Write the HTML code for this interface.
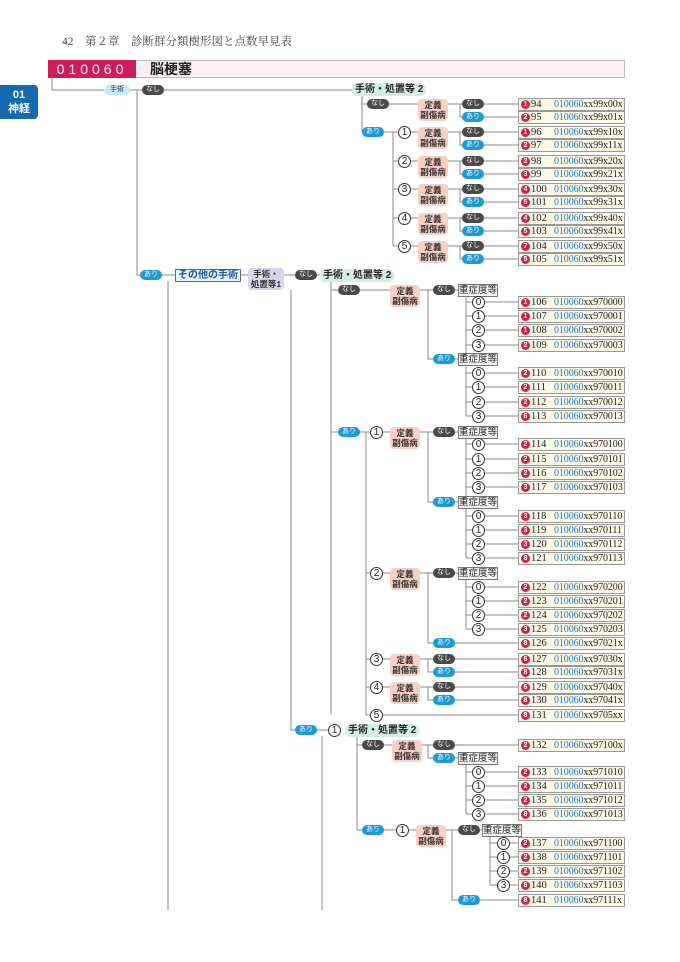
<!DOCTYPE html><html><head><meta charset="utf-8"><style>
body{margin:0;width:680px;height:962px;background:#fff;position:relative;overflow:hidden;font-family:"Liberation Sans","Noto Sans CJK JP",sans-serif}
div{position:absolute;box-sizing:border-box}
.p{height:10px;width:22px;border-radius:5px;color:#fff;font-size:7px;line-height:10px;text-align:center}
.n{background:#4a4a4a}.a{background:#1a9ad6}
.t{width:30px;height:22px;background:#f8cfc2;border-radius:4px;font-size:8.5px;line-height:10px;text-align:center;color:#333;padding-top:1px;font-weight:bold}
.c{width:13px;height:13px;border:1px solid #333;border-radius:50%;background:#fff;font-size:10px;line-height:11px;text-align:center;color:#222}
.s{width:40px;height:13px;border:1px solid #777;background:#f4f4f4;font-size:9.5px;line-height:11px;text-align:center;color:#222}
.h{height:13px;background:#d3ede3;border-radius:6px;font-size:10px;line-height:13px;padding:0 3px;color:#222;font-weight:bold}
.r{left:518px;width:107px;height:13px;border:1px solid #999;background:#fcf9e6;font-family:"Liberation Serif",serif;font-size:10.5px;line-height:11px;color:#222;white-space:nowrap;overflow:hidden}
.r b{display:inline-block;width:9px;height:9px;border-radius:50%;background:#d81c4c;color:#fff;font:bold 7px/9px "Liberation Sans",sans-serif;text-align:center;margin:1px 1px 0 2px;vertical-align:top}
.r i{font-style:normal;position:absolute;left:35px;top:0;font-size:10px;letter-spacing:-0.1px}
.r u{text-decoration:none;color:#1a7cc0}
</style></head><body>
<svg width="680" height="962" style="position:absolute;left:0;top:0" fill="none" stroke="#8a8a8a" stroke-width="1">
<path d="M52 77V90H352M137 90V275H175M240 275H248M284 275H320
M362 95V132H398M362 104H418M393 132V246M393 161H398M393 189H398M393 218H398M393 246H398
M411 132H418M411 161H418M411 189H418M411 218H418M411 246H418
M448 104H518M460 104V117H518M448 132H518M460 132V145H518M448 161H518M460 161V174H518M448 189H518M460 189V202H518M448 218H518M460 218V231H518M448 246H518M460 246V259H518
M168 281V910M291 290V730H328M331 281V715M331 290H390M331 432H370M383 432H390
M420 290H458M428 290V359H458M466 296V416M466 302H518M466 316H518M466 330H518M466 345H518M466 373H518M466 387H518M466 402H518M466 416H518
M420 432H458M428 432V502H458M466 438V558M466 444H518M466 459H518M466 473H518M466 487H518M466 516H518M466 530H518M466 544H518M466 558H518
M366 432V715M366 573H390M366 659H390M366 687H390M366 715H518
M420 573H458M428 573V643H518M466 579V629M466 587H518M466 601H518M466 615H518M466 629H518
M420 659H518M428 659V672H518M420 687H518M428 687V700H518
M322 736V910M357 736V830H396M357 745H392M422 745H518M428 745V758H458M466 764V814M466 772H518M466 786H518M466 800H518M466 814H518
M409 830H416M446 830H482M452 830V900H518M490 836V885M490 843H518M490 857H518M490 871H518M490 885H518"/>
</svg>
<div style="left:62px;top:33px;font-family:'Liberation Serif','Noto Serif CJK SC',serif;font-size:11.5px;color:#444">42　第２章　診断群分類樹形図と点数早見表</div>
<div style="left:48px;top:60px;width:577px;height:18px;background:#fdeef3;border:1px solid #bbb"></div>
<div style="left:48px;top:60px;width:88px;height:18px;background:#d01c5a;color:#fff;font-size:14px;line-height:18px;text-align:center;letter-spacing:4px">010060</div>
<div style="left:150px;top:60px;font-size:14px;line-height:18px;font-weight:bold;color:#222">脳梗塞</div>
<div style="left:0;top:85px;width:38px;height:34px;background:#1468b4;border-radius:0 4px 4px 0;color:#fff;font-weight:bold;font-size:11px;line-height:14px;text-align:center;padding-top:3px">01<br>神経</div>
<div class="p" style="left:104px;top:85px;width:26px;background:#c5e8f6;color:#234">手術</div>
<div class="p n" style="left:142px;top:85px">なし</div>
<div class="h" style="left:352px;top:83px">手術・処置等 2</div>
<div class="p n" style="left:367px;top:99px">なし</div>
<div class="p a" style="left:362px;top:127px">あり</div>
<div class="c" style="left:398px;top:126px">1</div><div class="c" style="left:398px;top:155px">2</div><div class="c" style="left:398px;top:183px">3</div><div class="c" style="left:398px;top:212px">4</div><div class="c" style="left:398px;top:240px">5</div>
<div class="t" style="left:418px;top:99px">定義<br>副傷病</div><div class="t" style="left:418px;top:127px">定義<br>副傷病</div><div class="t" style="left:418px;top:156px">定義<br>副傷病</div><div class="t" style="left:418px;top:184px">定義<br>副傷病</div><div class="t" style="left:418px;top:213px">定義<br>副傷病</div><div class="t" style="left:418px;top:241px">定義<br>副傷病</div>
<div class="p n" style="left:462px;top:99px">なし</div><div class="p a" style="left:462px;top:112px">あり</div>
<div class="p n" style="left:462px;top:127px">なし</div><div class="p a" style="left:462px;top:140px">あり</div>
<div class="p n" style="left:462px;top:156px">なし</div><div class="p a" style="left:462px;top:169px">あり</div>
<div class="p n" style="left:462px;top:184px">なし</div><div class="p a" style="left:462px;top:197px">あり</div>
<div class="p n" style="left:462px;top:213px">なし</div><div class="p a" style="left:462px;top:226px">あり</div>
<div class="p n" style="left:462px;top:241px">なし</div><div class="p a" style="left:462px;top:254px">あり</div>
<div class="p a" style="left:140px;top:270px">あり</div>
<div style="left:175px;top:269px;width:66px;height:13px;border:1px solid #666;background:#e6f4fb;font-size:10px;line-height:11px;text-align:center;color:#1a5a9a;font-weight:bold">その他の手術</div>
<div style="left:248px;top:268px;width:36px;height:22px;background:#d9d3ec;border-radius:4px;font-size:8.5px;line-height:10px;text-align:center;padding-top:1px;font-weight:bold;color:#333">手術・<br>処置等1</div>
<div class="p n" style="left:295px;top:270px">なし</div>
<div class="h" style="left:320px;top:269px">手術・処置等 2</div>
<div class="p n" style="left:338px;top:285px">なし</div>
<div class="t" style="left:390px;top:285px">定義<br>副傷病</div>
<div class="p n" style="left:433px;top:285px">なし</div><div class="s" style="left:458px;top:284px">重症度等</div>
<div class="p a" style="left:433px;top:354px">あり</div><div class="s" style="left:458px;top:353px">重症度等</div>
<div class="c" style="left:472px;top:296px">0</div><div class="c" style="left:472px;top:310px">1</div><div class="c" style="left:472px;top:324px">2</div><div class="c" style="left:472px;top:339px">3</div>
<div class="c" style="left:472px;top:367px">0</div><div class="c" style="left:472px;top:381px">1</div><div class="c" style="left:472px;top:396px">2</div><div class="c" style="left:472px;top:410px">3</div>
<div class="p a" style="left:338px;top:427px">あり</div><div class="c" style="left:370px;top:426px">1</div>
<div class="t" style="left:390px;top:427px">定義<br>副傷病</div>
<div class="p n" style="left:433px;top:427px">なし</div><div class="s" style="left:458px;top:426px">重症度等</div>
<div class="p a" style="left:433px;top:497px">あり</div><div class="s" style="left:458px;top:496px">重症度等</div>
<div class="c" style="left:472px;top:438px">0</div><div class="c" style="left:472px;top:453px">1</div><div class="c" style="left:472px;top:467px">2</div><div class="c" style="left:472px;top:481px">3</div>
<div class="c" style="left:472px;top:510px">0</div><div class="c" style="left:472px;top:524px">1</div><div class="c" style="left:472px;top:538px">2</div><div class="c" style="left:472px;top:552px">3</div>
<div class="c" style="left:370px;top:567px">2</div><div class="t" style="left:390px;top:568px">定義<br>副傷病</div>
<div class="p n" style="left:433px;top:568px">なし</div><div class="s" style="left:458px;top:567px">重症度等</div>
<div class="c" style="left:472px;top:581px">0</div><div class="c" style="left:472px;top:595px">1</div><div class="c" style="left:472px;top:609px">2</div><div class="c" style="left:472px;top:623px">3</div>
<div class="p a" style="left:433px;top:638px">あり</div>
<div class="c" style="left:370px;top:653px">3</div><div class="t" style="left:390px;top:654px">定義<br>副傷病</div>
<div class="p n" style="left:433px;top:654px">なし</div><div class="p a" style="left:433px;top:667px">あり</div>
<div class="c" style="left:370px;top:681px">4</div><div class="t" style="left:390px;top:682px">定義<br>副傷病</div>
<div class="p n" style="left:433px;top:682px">なし</div><div class="p a" style="left:433px;top:695px">あり</div>
<div class="c" style="left:370px;top:709px">5</div>
<div class="p a" style="left:295px;top:725px">あり</div><div class="c" style="left:328px;top:724px">1</div>
<div class="h" style="left:345px;top:724px">手術・処置等 2</div>
<div class="p n" style="left:362px;top:740px">なし</div><div class="t" style="left:392px;top:740px">定義<br>副傷病</div>
<div class="p n" style="left:433px;top:740px">なし</div><div class="p a" style="left:433px;top:753px">あり</div><div class="s" style="left:458px;top:752px">重症度等</div>
<div class="c" style="left:472px;top:766px">0</div><div class="c" style="left:472px;top:780px">1</div><div class="c" style="left:472px;top:794px">2</div><div class="c" style="left:472px;top:808px">3</div>
<div class="p a" style="left:362px;top:825px">あり</div><div class="c" style="left:396px;top:824px">1</div>
<div class="t" style="left:416px;top:825px">定義<br>副傷病</div>
<div class="p n" style="left:458px;top:825px">なし</div><div class="s" style="left:482px;top:824px">重症度等</div>
<div class="c" style="left:497px;top:837px">0</div><div class="c" style="left:497px;top:851px">1</div><div class="c" style="left:497px;top:865px">2</div><div class="c" style="left:497px;top:879px">3</div>
<div class="p a" style="left:458px;top:895px">あり</div>
<div class="r" style="top:98px"><b>1</b>94<i><u>010060</u>xx99x00x</i></div>
<div class="r" style="top:111px"><b>2</b>95<i><u>010060</u>xx99x01x</i></div>
<div class="r" style="top:126px"><b>1</b>96<i><u>010060</u>xx99x10x</i></div>
<div class="r" style="top:139px"><b>2</b>97<i><u>010060</u>xx99x11x</i></div>
<div class="r" style="top:155px"><b>2</b>98<i><u>010060</u>xx99x20x</i></div>
<div class="r" style="top:168px"><b>3</b>99<i><u>010060</u>xx99x21x</i></div>
<div class="r" style="top:183px"><b>4</b>100<i><u>010060</u>xx99x30x</i></div>
<div class="r" style="top:196px"><b>5</b>101<i><u>010060</u>xx99x31x</i></div>
<div class="r" style="top:212px"><b>4</b>102<i><u>010060</u>xx99x40x</i></div>
<div class="r" style="top:225px"><b>5</b>103<i><u>010060</u>xx99x41x</i></div>
<div class="r" style="top:240px"><b>7</b>104<i><u>010060</u>xx99x50x</i></div>
<div class="r" style="top:253px"><b>5</b>105<i><u>010060</u>xx99x51x</i></div>
<div class="r" style="top:296px"><b>1</b>106<i><u>010060</u>xx970000</i></div>
<div class="r" style="top:310px"><b>1</b>107<i><u>010060</u>xx970001</i></div>
<div class="r" style="top:324px"><b>1</b>108<i><u>010060</u>xx970002</i></div>
<div class="r" style="top:339px"><b>2</b>109<i><u>010060</u>xx970003</i></div>
<div class="r" style="top:367px"><b>2</b>110<i><u>010060</u>xx970010</i></div>
<div class="r" style="top:381px"><b>2</b>111<i><u>010060</u>xx970011</i></div>
<div class="r" style="top:396px"><b>2</b>112<i><u>010060</u>xx970012</i></div>
<div class="r" style="top:410px"><b>6</b>113<i><u>010060</u>xx970013</i></div>
<div class="r" style="top:438px"><b>2</b>114<i><u>010060</u>xx970100</i></div>
<div class="r" style="top:453px"><b>2</b>115<i><u>010060</u>xx970101</i></div>
<div class="r" style="top:467px"><b>2</b>116<i><u>010060</u>xx970102</i></div>
<div class="r" style="top:481px"><b>3</b>117<i><u>010060</u>xx970103</i></div>
<div class="r" style="top:510px"><b>3</b>118<i><u>010060</u>xx970110</i></div>
<div class="r" style="top:524px"><b>3</b>119<i><u>010060</u>xx970111</i></div>
<div class="r" style="top:538px"><b>3</b>120<i><u>010060</u>xx970112</i></div>
<div class="r" style="top:552px"><b>8</b>121<i><u>010060</u>xx970113</i></div>
<div class="r" style="top:581px"><b>2</b>122<i><u>010060</u>xx970200</i></div>
<div class="r" style="top:595px"><b>2</b>123<i><u>010060</u>xx970201</i></div>
<div class="r" style="top:609px"><b>2</b>124<i><u>010060</u>xx970202</i></div>
<div class="r" style="top:623px"><b>3</b>125<i><u>010060</u>xx970203</i></div>
<div class="r" style="top:637px"><b>8</b>126<i><u>010060</u>xx97021x</i></div>
<div class="r" style="top:653px"><b>6</b>127<i><u>010060</u>xx97030x</i></div>
<div class="r" style="top:666px"><b>8</b>128<i><u>010060</u>xx97031x</i></div>
<div class="r" style="top:681px"><b>6</b>129<i><u>010060</u>xx97040x</i></div>
<div class="r" style="top:694px"><b>8</b>130<i><u>010060</u>xx97041x</i></div>
<div class="r" style="top:709px"><b>8</b>131<i><u>010060</u>xx9705xx</i></div>
<div class="r" style="top:739px"><b>2</b>132<i><u>010060</u>xx97100x</i></div>
<div class="r" style="top:766px"><b>2</b>133<i><u>010060</u>xx971010</i></div>
<div class="r" style="top:780px"><b>2</b>134<i><u>010060</u>xx971011</i></div>
<div class="r" style="top:794px"><b>2</b>135<i><u>010060</u>xx971012</i></div>
<div class="r" style="top:808px"><b>8</b>136<i><u>010060</u>xx971013</i></div>
<div class="r" style="top:837px"><b>2</b>137<i><u>010060</u>xx971100</i></div>
<div class="r" style="top:851px"><b>2</b>138<i><u>010060</u>xx971101</i></div>
<div class="r" style="top:865px"><b>2</b>139<i><u>010060</u>xx971102</i></div>
<div class="r" style="top:879px"><b>8</b>140<i><u>010060</u>xx971103</i></div>
<div class="r" style="top:894px"><b>8</b>141<i><u>010060</u>xx97111x</i></div>
</body></html>
